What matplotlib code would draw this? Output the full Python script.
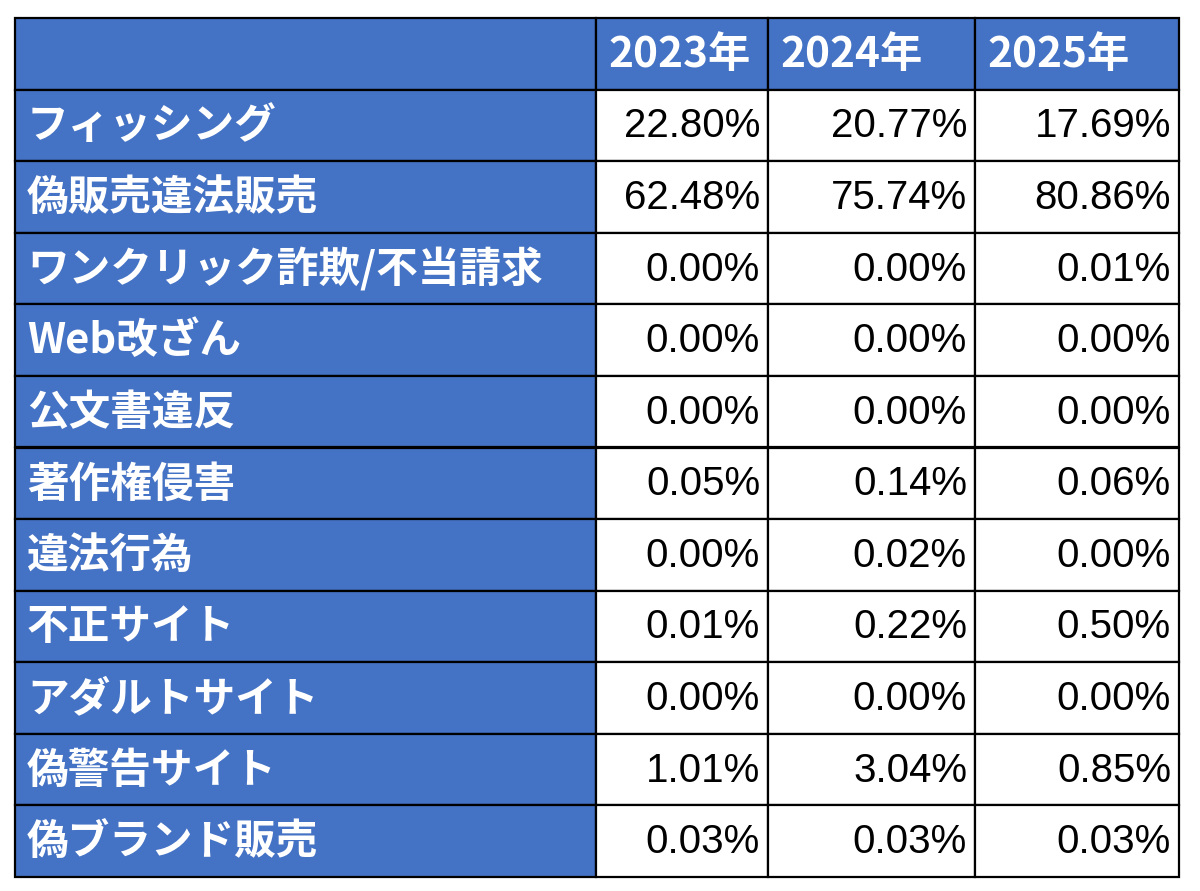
import matplotlib.pyplot as plt
from matplotlib.patches import Rectangle

years = ["2023年", "2024年", "2025年"]
categories = [
    "フィッシング", "偽販売違法販売", "ワンクリック詐欺/不当請求", "Web改ざん",
    "公文書違反", "著作権侵害", "違法行為", "不正サイト", "アダルトサイト",
    "偽警告サイト", "偽ブランド販売",
]
v2023 = [22.80, 62.48, 0.00, 0.00, 0.00, 0.05, 0.00, 0.01, 0.00, 1.01, 0.03]
v2024 = [20.77, 75.74, 0.00, 0.00, 0.00, 0.14, 0.02, 0.22, 0.00, 3.04, 0.03]
v2025 = [17.69, 80.86, 0.01, 0.00, 0.00, 0.06, 0.00, 0.50, 0.00, 0.85, 0.03]

BLUE = "#4472C4"
JP = ["Noto Sans CJK JP", "DejaVu Sans"]
NUM = ["Liberation Sans Narrow", "Liberation Sans", "DejaVu Sans"]

# layout in pixels
col_edges = [15, 596, 768, 975, 1179]
top, bottom = 18, 877
n_rows = len(categories) + 1
row_h = (bottom - top) / n_rows

fig = plt.figure(figsize=(12, 8.91), dpi=100)
ax = fig.add_axes([0, 0, 1, 1])
ax.set_xlim(0, 1200)
ax.set_ylim(891, 0)
ax.axis("off")

columns = [v2023, v2024, v2025]

for r in range(n_rows):
    y0 = top + r * row_h
    yc = y0 + row_h / 2
    for c in range(4):
        x0, x1 = col_edges[c], col_edges[c + 1]
        face = BLUE if (r == 0 or c == 0) else "white"
        ax.add_patch(Rectangle((x0, y0), x1 - x0, row_h, facecolor=face,
                               edgecolor="black", linewidth=1.6))
        if r == 0:
            if c > 0:
                ax.text(x0 + 12, yc + 1, years[c - 1], color="white", fontsize=30.5,
                        fontweight="bold", family=JP, ha="left", va="center")
        elif c == 0:
            ax.text(x0 + 12, yc + 1, categories[r - 1], color="white", fontsize=30,
                    fontweight="bold", family=JP, ha="left", va="center")
        else:
            val = columns[c - 1][r - 1]
            ax.text(x1 - 8, yc + 1, f"{val:.2f}%", color="black", fontsize=29,
                    family=NUM, ha="right", va="center")

fig.savefig("out.png", dpi=100)
